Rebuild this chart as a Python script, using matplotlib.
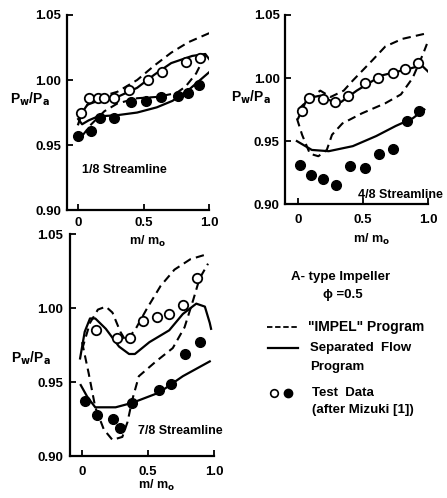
import matplotlib
matplotlib.use('Agg')
import matplotlib.pyplot as plt
from matplotlib.lines import Line2D

plt.rcParams['font.family'] = ['Liberation Sans', 'DejaVu Sans']
plt.rcParams['font.weight'] = 'bold'

# --- 1/8 streamline ---
p1_open_x = [0.02, 0.085, 0.15, 0.20, 0.27, 0.385, 0.53, 0.64, 0.82, 0.93]
p1_open_y = [0.975, 0.986, 0.986, 0.986, 0.986, 0.992, 1.000, 1.006, 1.014, 1.017]
p1_fill_x = [0.0, 0.10, 0.17, 0.27, 0.40, 0.52, 0.63, 0.765, 0.84, 0.92]
p1_fill_y = [0.957, 0.961, 0.971, 0.971, 0.983, 0.984, 0.987, 0.988, 0.990, 0.996]
p1_dash_hi_x = [0.0, 0.08, 0.2, 0.3, 0.45, 0.58, 0.71, 0.84, 1.0]
p1_dash_hi_y = [0.972, 0.982, 0.988, 0.991, 1.000, 1.011, 1.021, 1.029, 1.036]
p1_dash_lo_x = [0.03, 0.1, 0.2, 0.3, 0.45, 0.6, 0.75, 0.82, 0.9, 0.97]
p1_dash_lo_y = [0.957, 0.966, 0.976, 0.982, 0.986, 0.987, 0.990, 0.995, 1.005, 1.019]
p1_sol_hi_x = [0.0, 0.03, 0.07, 0.15, 0.3, 0.45, 0.58, 0.71, 0.87, 0.97, 1.0]
p1_sol_hi_y = [0.966, 0.975, 0.981, 0.984, 0.987, 0.994, 1.004, 1.013, 1.0185, 1.020, 1.016]
p1_sol_lo_x = [0.0, 0.03, 0.08, 0.15, 0.3, 0.45, 0.6, 0.72, 0.85, 1.0]
p1_sol_lo_y = [0.970, 0.966, 0.969, 0.972, 0.973, 0.975, 0.979, 0.984, 0.993, 1.006]

# --- 4/8 streamline ---
p2_open_x = [0.03, 0.085, 0.19, 0.28, 0.38, 0.51, 0.61, 0.73, 0.82, 0.92]
p2_open_y = [0.974, 0.984, 0.983, 0.981, 0.986, 0.996, 1.000, 1.004, 1.007, 1.012]
p2_fill_x = [0.015, 0.10, 0.19, 0.29, 0.40, 0.51, 0.62, 0.73, 0.835, 0.93]
p2_fill_y = [0.931, 0.923, 0.920, 0.915, 0.930, 0.929, 0.940, 0.944, 0.966, 0.974]
p2_dash_hi_x = [0.0, 0.1, 0.17, 0.25, 0.35, 0.42, 0.57, 0.67, 0.80, 0.97]
p2_dash_hi_y = [0.975, 0.985, 0.990, 0.985, 0.990, 0.998, 1.014, 1.025, 1.031, 1.035]
p2_dash_lo_x = [-0.01, 0.03, 0.09, 0.155, 0.22, 0.26, 0.34, 0.49, 0.67, 0.79, 0.88, 0.96, 0.99]
p2_dash_lo_y = [0.968, 0.955, 0.940, 0.938, 0.943, 0.955, 0.964, 0.972, 0.980, 0.987, 1.000, 1.019, 1.027]
p2_sol_hi_x = [0.0, 0.07, 0.17, 0.25, 0.33, 0.45, 0.64, 0.84, 0.95, 1.0]
p2_sol_hi_y = [0.968, 0.984, 0.986, 0.982, 0.981, 0.990, 1.002, 1.007, 1.010, 1.005]
p2_sol_lo_x = [-0.01, 0.105, 0.235, 0.42, 0.60, 0.75, 0.88, 0.97]
p2_sol_lo_y = [0.950, 0.943, 0.942, 0.946, 0.954, 0.962, 0.968, 0.975]

# --- 7/8 streamline ---
p3_open_x = [0.107, 0.267, 0.36, 0.46, 0.565, 0.656, 0.763, 0.87]
p3_open_y = [0.985, 0.980, 0.980, 0.991, 0.994, 0.996, 1.002, 1.020]
p3_fill_x = [0.02, 0.115, 0.234, 0.29, 0.38, 0.58, 0.674, 0.776, 0.89]
p3_fill_y = [0.937, 0.928, 0.925, 0.919, 0.936, 0.945, 0.949, 0.969, 0.977]
p3_dash_hi_x = [0.0, 0.06, 0.12, 0.18, 0.23, 0.29, 0.33, 0.40, 0.49, 0.595, 0.70, 0.82, 0.95]
p3_dash_hi_y = [0.972, 0.990, 0.999, 1.001, 0.997, 0.984, 0.978, 0.985, 0.9995, 1.015, 1.026, 1.033, 1.0365]
p3_dash_lo_x = [0.0, 0.05, 0.10, 0.165, 0.23, 0.305, 0.344, 0.38, 0.43, 0.56, 0.687, 0.776, 0.84, 0.89, 0.954]
p3_dash_lo_y = [0.977, 0.956, 0.933, 0.918, 0.911, 0.913, 0.923, 0.938, 0.954, 0.964, 0.973, 0.987, 1.005, 1.020, 1.030]
p3_sol_hi_x = [-0.015, 0.02, 0.06, 0.10, 0.18, 0.28, 0.356, 0.40, 0.51, 0.66, 0.763, 0.865, 0.93, 0.967, 0.977]
p3_sol_hi_y = [0.966, 0.984, 0.993, 0.993, 0.986, 0.974, 0.969, 0.969, 0.977, 0.985, 0.996, 1.003, 1.001, 0.990, 0.986]
p3_sol_lo_x = [-0.01, 0.04, 0.10, 0.254, 0.38, 0.585, 0.763, 0.967]
p3_sol_lo_y = [0.948, 0.940, 0.933, 0.933, 0.936, 0.943, 0.954, 0.964]

y_ticks = [0.90, 0.95, 1.00, 1.05]
y_tick_labels = ['0.90', '0.95', '1.00', '1.05']
x_ticks = [0, 0.5, 1.0]
x_tick_labels = ['0', '0.5', '1.0']

fig = plt.figure(figsize=(4.47, 4.98), dpi=100)

panels = [
    ([0.150, 0.578, 0.318, 0.392], -0.085, 5, 4, '1/8 Streamline', (0.03, 0.931),
     p1_open_x, p1_open_y, p1_fill_x, p1_fill_y,
     [(p1_dash_hi_x, p1_dash_hi_y), (p1_dash_lo_x, p1_dash_lo_y)],
     [(p1_sol_hi_x, p1_sol_hi_y), (p1_sol_lo_x, p1_sol_lo_y)]),
    ([0.638, 0.590, 0.320, 0.380], -0.10, 7, 4, '4/8 Streamline', (0.457, 0.907),
     p2_open_x, p2_open_y, p2_fill_x, p2_fill_y,
     [(p2_dash_hi_x, p2_dash_hi_y), (p2_dash_lo_x, p2_dash_lo_y)],
     [(p2_sol_hi_x, p2_sol_hi_y), (p2_sol_lo_x, p2_sol_lo_y)]),
    ([0.157, 0.084, 0.322, 0.446], -0.09, 7, 5, '7/8 Streamline', (0.42, 0.917),
     p3_open_x, p3_open_y, p3_fill_x, p3_fill_y,
     [(p3_dash_hi_x, p3_dash_hi_y), (p3_dash_lo_x, p3_dash_lo_y)],
     [(p3_sol_hi_x, p3_sol_hi_y), (p3_sol_lo_x, p3_sol_lo_y)]),
]

for rect, x0, xpad, ypad, name, name_xy, ox, oy, fx, fy, dashes, solids in panels:
    ax = fig.add_axes(rect)
    for dx, dy in dashes:
        ax.plot(dx, dy, color='black', lw=1.5, ls=(0, (4, 2.5)))
    for sx, sy in solids:
        ax.plot(sx, sy, color='black', lw=1.6)
    ax.plot(ox, oy, 'o', mfc='white', mec='black', mew=1.3, ms=6.8, ls='none')
    ax.plot(fx, fy, 'o', color='black', ms=7, ls='none')
    ax.set_xlim(x0, 1.0)
    ax.set_ylim(0.90, 1.05)
    ax.set_yticks(y_ticks)
    ax.set_yticklabels(y_tick_labels)
    ax.set_xticks(x_ticks)
    ax.set_xticklabels(x_tick_labels)
    ax.tick_params(labelsize=9.5, length=4, width=1.3, direction='in')
    ax.tick_params(axis='x', pad=xpad)
    ax.tick_params(axis='y', pad=ypad)
    for s in ['top', 'right']:
        ax.spines[s].set_visible(False)
    for s in ['left', 'bottom']:
        ax.spines[s].set_linewidth(1.6)
    ax.text(name_xy[0], name_xy[1], name, fontsize=9, fontweight='bold',
            ha='left', va='center', clip_on=False)

# axis labels
for x, y in [(0.067, 0.800), (0.561, 0.805), (0.069, 0.281)]:
    fig.text(x, y, r'P$_\mathbf{w}$/P$_\mathbf{a}$', fontsize=10, ha='center', va='center')
for x, y in [(0.331, 0.516), (0.832, 0.520), (0.351, 0.026)]:
    fig.text(x, y, r'm/ m$_\mathbf{o}$', fontsize=9, ha='center', va='center')

# legend block
fig.text(0.761, 0.443, 'A- type Impeller', fontsize=9.5, ha='center', va='center')
fig.text(0.768, 0.407, '\u03d5 =0.5', fontsize=9.5, ha='center', va='center')
fig.add_artist(Line2D([0.597, 0.667], [0.343, 0.343], color='black', lw=1.3,
                      ls=(0, (3, 1.5))))
fig.text(0.688, 0.343, '"IMPEL" Program', fontsize=10, ha='left', va='center')
fig.add_artist(Line2D([0.600, 0.667], [0.301, 0.301], color='black', lw=1.6))
fig.text(0.693, 0.301, 'Separated  Flow', fontsize=9.5, ha='left', va='center')
fig.text(0.693, 0.263, 'Program', fontsize=9.5, ha='left', va='center')
fig.add_artist(Line2D([0.612], [0.211], marker='o', mfc='white', mec='black',
                      mew=1.2, ms=5.5, ls='none'))
fig.add_artist(Line2D([0.645], [0.211], marker='o', color='black', ms=6, ls='none'))
fig.text(0.698, 0.211, 'Test  Data', fontsize=9.5, ha='left', va='center')
fig.text(0.698, 0.177, '(after Mizuki [1])', fontsize=9.5, ha='left', va='center')

fig.savefig('out.png', dpi=100, facecolor='white')
